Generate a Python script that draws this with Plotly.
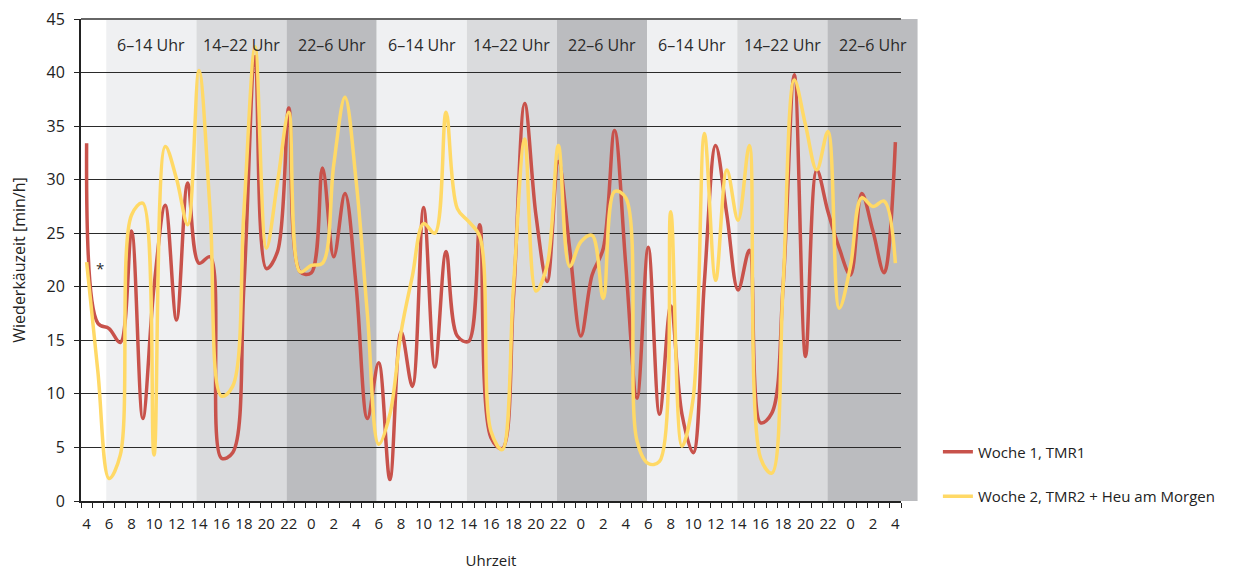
import plotly.graph_objects as go

# ---- data ----
hours = [(4 + i) % 24 for i in range(73)]          # 4 Uhr ... 4 Uhr (3 Tage)
woche1_tmr1 = [33.4, 16.6, 16.1, 14.8, 25.2, 7.7, 20.0, 27.6, 16.9, 29.7,
               22.2, 22.8, 4.0, 4.5, 20.0, 41.5, 21.7, 23.3, 36.7, 21.4,
               21.3, 31.1, 22.8, 28.7, 20.0, 7.7, 12.9, 2.0, 15.8, 10.7,
               27.4, 12.5, 23.3, 15.4, 14.9, 25.8, 5.9, 4.9, 19.0, 37.1,
               26.7, 20.5, 31.7, 23.6, 15.4, 21.1, 23.6, 34.6, 22.0, 9.6,
               23.7, 8.1, 18.2, 8.1, 4.5, 20.5, 33.2, 26.7, 19.7, 23.4,
               7.3, 8.2, 20.0, 39.8, 13.5, 30.9, 27.0, 23.6, 21.1, 28.7,
               25.2, 21.3, 33.5]
woche2_tmr2_heu = [22.3, 12.1, 2.1, 4.3, 26.7, 27.8, 4.3, 33.1, 30.1, 25.8,
                   40.2, 27.0, 9.8, 10.7, 27.0, 42.4, 23.6, 29.8, 36.3, 21.4,
                   22.0, 22.2, 31.4, 37.7, 29.8, 17.4, 5.3, 8.1, 15.8, 21.0,
                   25.9, 25.0, 36.3, 27.3, 26.1, 24.7, 6.5, 4.8, 20.0, 33.8,
                   19.6, 22.0, 33.2, 21.9, 24.2, 24.8, 18.9, 28.9, 28.3, 5.6,
                   3.5, 3.7, 27.0, 5.1, 9.6, 34.3, 20.6, 30.9, 26.2, 33.2,
                   4.0, 2.6, 20.0, 39.3, 35.1, 30.9, 34.5, 18.0, 21.9, 28.3,
                   27.5, 28.0, 22.2]
schichten = ["6–14 Uhr", "14–22 Uhr", "22–6 Uhr"] * 3
series_names = ["Woche 1, TMR1", "Woche 2, TMR2 + Heu am Morgen"]
y_ticks = [0, 5, 10, 15, 20, 25, 30, 35, 40, 45]

# ---- styling ----
FONT = "Open Sans"
band_colors = ["#EFF0F2", "#DADBDD", "#BBBCBF"]
n = len(hours)
x = list(range(n))

fig = go.Figure()
fig.add_trace(go.Scatter(x=x, y=woche1_tmr1, mode="lines", name=series_names[0],
                         line=dict(color="#C8524B", width=3.5, shape="spline", smoothing=1.0),
                         legendgroup="a"))
fig.add_trace(go.Scatter(x=x, y=woche2_tmr2_heu, mode="lines", name=series_names[1],
                         line=dict(color="#FFD966", width=3.5, shape="spline", smoothing=1.0),
                         legendgroup="b"))

# shift bands (start at 6 Uhr = index 2)
shapes = []
annotations = []
step = 8.025
start = 2 - 0.25
for k, lab in enumerate(schichten):
    x0 = start + step * k
    x1 = x0 + step
    p0 = (x0 + 0.5) / n
    p1 = (x1 + 0.5) / n
    shapes.append(dict(type="rect", xref="paper", yref="paper", x0=p0, x1=p1, y0=0, y1=1,
                       fillcolor=band_colors[k % 3], line=dict(width=0), layer="below"))
    annotations.append(dict(x=(x0 + x1) / 2, y=42.6, xref="x", yref="y", text=lab,
                            showarrow=False, font=dict(family=FONT, size=16, color="#2a2a2a")))

annotations.append(dict(x=1.2, y=21.8, xref="x", yref="y", text="*", showarrow=False,
                        font=dict(family=FONT, size=15, color="#2a2a2a")))

# top line at 45 (paper ref so it is not clipped)
shapes.append(dict(type="line", xref="paper", yref="paper", x0=0, x1=1, y0=1, y1=1,
                   line=dict(color="#666666", width=2), layer="above"))

fig.update_layout(
    width=1236, height=562,
    margin=dict(l=73, r=343, t=11, b=69, autoexpand=False),
    paper_bgcolor="white", plot_bgcolor="rgba(0,0,0,0)",
    shapes=shapes, annotations=annotations,
    font=dict(family=FONT, size=15, color="#222222"),
    showlegend=True,
    legend=dict(x=1.045, y=0.136, xanchor="left", yanchor="top",
                font=dict(family=FONT, size=15, color="#222222"),
                tracegroupgap=22, bgcolor="rgba(0,0,0,0)"),
)

fig.update_xaxes(
    automargin=False,
    range=[-0.5, n - 0.5],
    tickmode="array",
    tickvals=x[::2], ticktext=[str(h) for h in hours[::2]],
    ticks="", ticklen=0, ticklabelstandoff=8, ticklabeloverflow="allow",
    tickfont=dict(family=FONT, size=15, color="#222222"),
    showgrid=False, zeroline=False,
    showline=True, linecolor="#222222", linewidth=2,
    minor=dict(tickmode="linear", tick0=-0.5, dtick=1, ticks="outside", ticklen=5,
               tickcolor="#222222", tickwidth=1.3, showgrid=False),
    title=dict(text="Uhrzeit", font=dict(family=FONT, size=15, color="#222222"), standoff=26),
)
fig.update_yaxes(
    automargin=False,
    range=[0, 45], tickmode="array", tickvals=y_ticks,
    ticktext=[str(v) for v in y_ticks],
    ticks="outside", ticklen=5, tickcolor="#222222", tickwidth=1.3,
    ticklabelstandoff=6, ticklabeloverflow="allow",
    tickfont=dict(family=FONT, size=16, color="#222222"),
    showgrid=True, gridcolor="#2a2a2a", gridwidth=1.3,
    zeroline=False, showline=True, linecolor="#222222", linewidth=2,
    title=dict(text="Wiederkäuzeit [min/h]", font=dict(family=FONT, size=16, color="#222222"),
               standoff=18),
)

fig.write_html("out.html")
